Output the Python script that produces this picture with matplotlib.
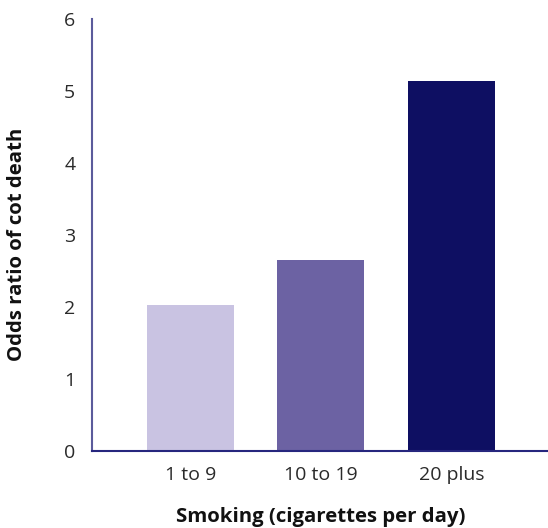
import matplotlib
matplotlib.use("Agg")
import matplotlib.pyplot as plt

categories = ["1 to 9", "10 to 19", "20 plus"]
odds_ratio = [2.03, 2.65, 5.13]
bar_colors = ["#C9C3E2", "#6C62A3", "#0E0F62"]
y_ticks = [0, 1, 2, 3, 4, 5, 6]

plt.rcParams['font.family'] = ['Open Sans', 'DejaVu Sans']

fig = plt.figure(figsize=(5.48, 5.28), dpi=100)
ax = fig.add_axes([92/548, 77/528, 1 - 92/548, (451 - 18.5)/528])

x = list(range(len(categories)))
ax.bar(x, odds_ratio, width=0.667, color=bar_colors, zorder=2)

ax.set_xlim(-0.755, 2.74)
ax.set_ylim(0, 6)
ax.set_yticks(y_ticks)
ax.set_yticklabels([str(t) for t in y_ticks])
ax.set_xticks(x)
ax.set_xticklabels(categories)

ax.tick_params(axis='both', length=0, labelsize=14, colors='#2A2A2A')
ax.tick_params(axis='y', pad=12)
ax.tick_params(axis='x', pad=11)

for s in ['top', 'right']:
    ax.spines[s].set_visible(False)
ax.spines['left'].set_color('#5B5B9B')
ax.spines['left'].set_linewidth(1.5)
ax.spines['bottom'].set_color('#26267E')
ax.spines['bottom'].set_linewidth(1.5)

fig.text(321/548, 1 - 517/528, "Smoking (cigarettes per day)", ha='center', va='center',
         fontsize=14.7, fontweight='bold', color='#111111')
fig.text(17/548, 1 - 244/528, "Odds ratio of cot death", ha='center', va='center',
         rotation=90, fontsize=14.7, fontweight='bold', color='#111111')

fig.savefig("out.png", dpi=100)
